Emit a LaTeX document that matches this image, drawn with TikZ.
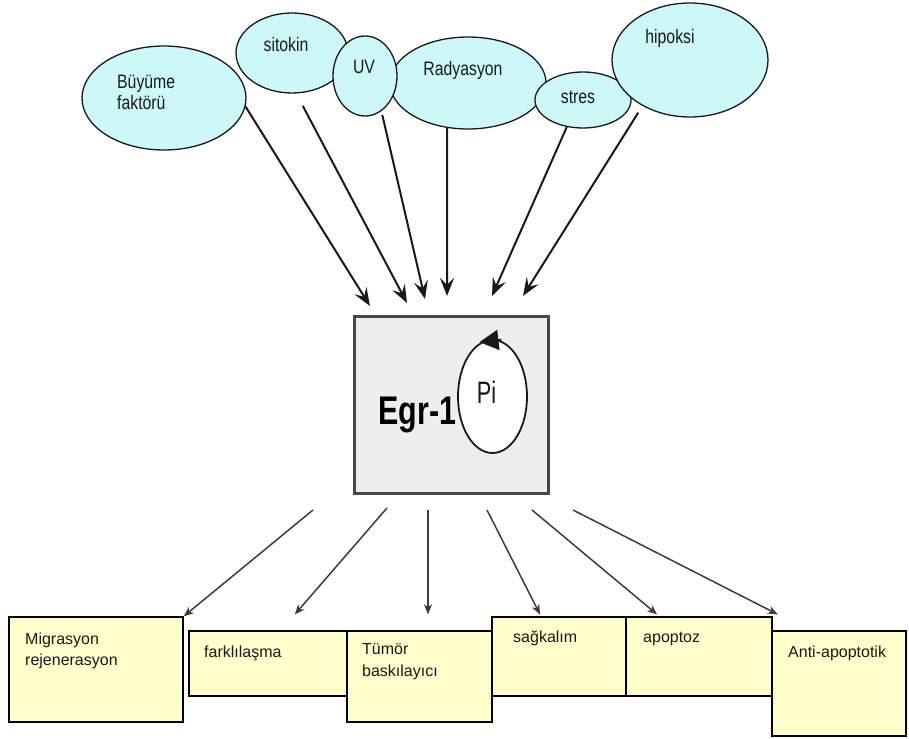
\documentclass[tikz,border=0pt]{standalone}
\usepackage{fontspec}
\setmainfont{Liberation Sans}
\usetikzlibrary{shapes.geometric,arrows.meta}
\definecolor{cyanfill}{RGB}{206,247,250}
\definecolor{yelfill}{RGB}{255,255,204}
\definecolor{egrfill}{RGB}{238,238,238}
\definecolor{egredge}{RGB}{70,70,70}
\definecolor{inkc}{RGB}{25,25,25}
\definecolor{thinc}{RGB}{60,60,60}
\newcommand{\narrowtxt}[1]{\scalebox{0.81}[1]{#1}}
\tikzset{
 oval/.style={ellipse, draw=inkc, line width=1.3pt, fill=cyanfill, inner sep=0pt},
 ovallbl/.style={font=\fontsize{19.5}{22}\selectfont, inner sep=0pt, text=inkc},
 lbl/.style={font=\fontsize{16}{20}\selectfont, inner sep=0pt, text=inkc},
 outbox/.style={rectangle, draw=black, line width=1.3pt, fill=yelfill, inner sep=0pt},
 inarrow/.style={draw=inkc, line width=2pt, -{Stealth[length=18pt,width=14pt,inset=7pt]}},
 outarrow/.style={draw=thinc, line width=1.5pt, -{Stealth[length=10pt,width=8pt,inset=3pt]}},
}
\begin{document}
\begin{tikzpicture}[x=1pt,y=-1pt]
\useasboundingbox (0,0) rectangle (909,738);
% input ellipses
\node[oval, minimum width=112pt, minimum height=80pt] (sit) at (292,53) {};
\node[oval, minimum width=164pt, minimum height=104pt] (buy) at (164,98) {};
\node[oval, minimum width=156pt, minimum height=92pt] (rad) at (468,83) {};
\node[oval, minimum width=96pt, minimum height=56pt] (str) at (583,100) {};
\node[oval, minimum width=156pt, minimum height=114pt] (hip) at (690,60) {};
\node[oval, minimum width=64pt, minimum height=80pt] (uv) at (365,76) {};
% labels
\node[ovallbl, anchor=base west] (buyA) at (117,89) {\narrowtxt{Büyüme}};
\node[ovallbl, anchor=base west] (buyB) at (117,110) {\narrowtxt{faktörü}};
\node[ovallbl, anchor=base] (sitl) at (286,52) {\narrowtxt{sitokin}};
\node[ovallbl, anchor=base] (uvl) at (364,74) {\narrowtxt{UV}};
\node[ovallbl, anchor=base] (radl) at (463,76) {\narrowtxt{Radyasyon}};
\node[ovallbl, anchor=base] (strl) at (578,104) {\narrowtxt{stres}};
\node[ovallbl, anchor=base] (hipl) at (670,44) {\narrowtxt{hipoksi}};
% central box
\node[rectangle, draw=egredge, line width=3pt, fill=egrfill, minimum width=194pt, minimum height=177pt, inner sep=0pt] (egr) at (451.5,405) {};
\node[font=\bfseries\fontsize{40}{44}\selectfont, inner sep=0pt, anchor=base, text=black] (egrl) at (417.5,424) {\scalebox{0.76}[1]{Egr-1}};
\node[ellipse, draw=inkc, line width=1.8pt, minimum width=69pt, minimum height=113pt, inner sep=0pt, fill=white] (pic) at (492.5,396.5) {};
\node[font=\fontsize{31}{34}\selectfont, inner sep=0pt, anchor=base, text=inkc] (pil) at (486.5,403) {\scalebox{0.7}[1]{Pi}};
\draw[draw=inkc, line width=1.8pt, -{Triangle[length=19pt,width=20pt]}] ([xshift=9pt,yshift=-0.5pt]pic.north) -- ([xshift=-13pt,yshift=-3pt]pic.north);
% arrow tips above the box
\coordinate (t1) at (370,306);
\coordinate (t2) at (407,303);
\coordinate (t3) at (425,299);
\coordinate (t4) at (447,296);
\coordinate (t5) at (492,296);
\coordinate (t6) at (523,296);
\draw[inarrow] (buy.-6) -- (t1);
\draw[inarrow, shorten <=14pt] (sit.-84) -- (t2);
\draw[inarrow, shorten <=4pt] (uv.-65) -- (t3);
\draw[inarrow] (rad.-115) -- (t4);
\draw[inarrow] (str.-121) -- (t5);
\draw[inarrow, shorten <=8pt] (hip.-136) -- (t6);
% output boxes
\node[outbox, minimum width=174pt, minimum height=105pt] (mig) at (96,669.5) {};
\node[outbox, minimum width=158pt, minimum height=65pt] (fark) at (268,663.5) {};
\node[outbox, minimum width=145pt, minimum height=91pt] (tum) at (419.5,676.5) {};
\node[outbox, minimum width=134pt, minimum height=79pt] (sag) at (559,656.5) {};
\node[outbox, minimum width=146pt, minimum height=79pt] (apo) at (699,656.5) {};
\node[outbox, minimum width=134pt, minimum height=105pt] (anti) at (839,683.5) {};
\node[lbl, anchor=base west] (migA) at (25,644) {Migrasyon};
\node[lbl, anchor=base west] (migB) at (25,665) {rejenerasyon};
\node[lbl, anchor=base west] (farkl) at (204,657) {farklılaşma};
\node[lbl, anchor=base west] (tumA) at (362,654) {Tümör};
\node[lbl, anchor=base west] (tumB) at (362,676) {baskılayıcı};
\node[lbl, anchor=base west] (sagl) at (513,642) {sağkalım};
\node[lbl, anchor=base west] (apol) at (643,642) {apoptoz};
\node[lbl, anchor=base west] (antil) at (788,657) {Anti-apoptotik};
% output arrows
\coordinate (s1) at (313,510);
\coordinate (s2) at (387,508);
\coordinate (s3) at (428,510);
\coordinate (s4) at (487,510);
\coordinate (s5) at (532,510);
\coordinate (s6) at (573,510);
\draw[outarrow] (s1) -- (mig.north east);
\draw[outarrow, shorten >=21pt] (s2) -- ([xshift=13pt]fark.north);
\draw[outarrow, shorten >=16pt] (s3) -- ([xshift=8.5pt]tum.north);
\draw[outarrow, shorten >=2pt] (s4) -- ([xshift=-18pt]sag.north);
\draw[outarrow, shorten >=3pt] (s5) -- ([xshift=-39.6pt]apo.north);
\draw[outarrow, shorten >=35pt] (s6) -- ([xshift=-30pt]anti.north);
\end{tikzpicture}
\end{document}
